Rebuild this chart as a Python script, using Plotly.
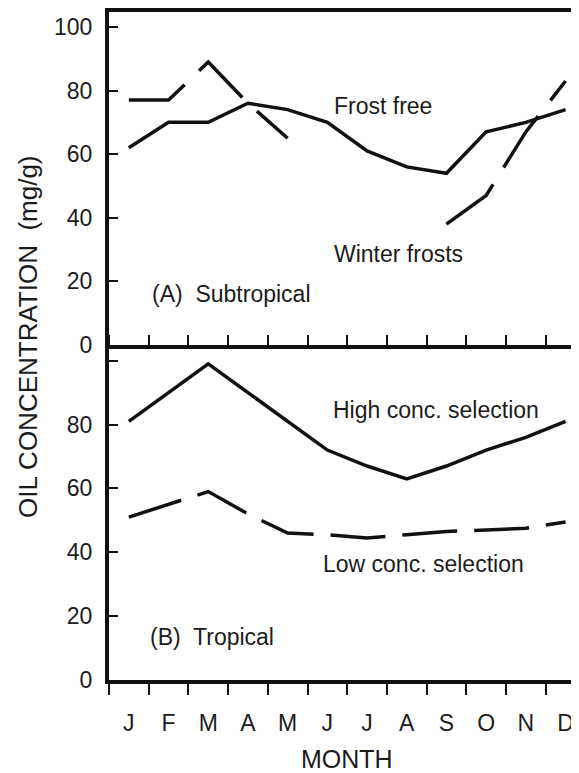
import plotly.graph_objects as go

# ---- data ----
months = list(range(1, 13))
month_labels = ["J", "F", "M", "A", "M", "J", "J", "A", "S", "O", "N", "D"]

# (A) Subtropical
frost_free = [62, 70, 70, 76, 74, 70, 61, 56, 54, 67, 70, 74]
winter_frosts = [77, 77, 89, 76, 65, None, None, None, 38, 47, 67, 83]

# (B) Tropical
high_conc = [81, 90, 99, 90, 81, 72, 67, 63, 67, 72, 76, 81]
low_conc = [51, 55, 59, 52, 46, 45.5, 44.5, 45.5, 46.5, 47, 47.5, 49.5]

y_ticks = [0, 20, 40, 60, 80, 100]
y_tick_text_top = ["0", "20", "40", "60", "80", "100"]
y_tick_text_bottom = ["0", "20", "40", "60", "80", ""]
boundaries = [m - 0.5 for m in months] + [12.5]

FONT = "Arial, Liberation Sans, sans-serif"
INK = "#111111"
TXT = "#1c1c1c"

fig = go.Figure()

fig.add_trace(go.Scatter(x=months, y=frost_free, mode="lines", xaxis="x2", yaxis="y2",
                         line=dict(color=INK, width=3.5), showlegend=False))
fig.add_trace(go.Scatter(x=months, y=winter_frosts, mode="lines", xaxis="x2", yaxis="y2",
                         line=dict(color=INK, width=3.5, dash="62px,20px"),
                         connectgaps=False, showlegend=False))
fig.add_trace(go.Scatter(x=months, y=high_conc, mode="lines", xaxis="x", yaxis="y",
                         line=dict(color=INK, width=3.5), showlegend=False))
fig.add_trace(go.Scatter(x=months, y=low_conc, mode="lines", xaxis="x", yaxis="y",
                         line=dict(color=INK, width=3.5, dash="55px,17px"), showlegend=False))

# the page body adds an 8px offset, so the figure is sized to fit the window
W, H = 571, 765
L, R, T, B = 101, 0, 0, 93
plot_w = W - L - R
plot_h = H - T - B
px_per_month = 39.7
x_range = [0.5, 0.5 + plot_w / px_per_month]
split = 337 / plot_h
y_range_top = [0, 104.7]
y_range_bottom = [0, 104.9]

common_y = dict(tickmode="array", tickvals=y_ticks, ticks="inside",
                ticklen=9, tickwidth=2, tickcolor=INK, showline=True, linewidth=4,
                linecolor=INK, showgrid=False, zeroline=False,
                tickfont=dict(family=FONT, size=23, color=TXT), ticklabelstandoff=8)

right_y = dict(tickmode="array", tickvals=y_ticks[1:], ticks="inside",
               ticklen=7, tickwidth=2, tickcolor=INK, showline=False, showgrid=False,
               zeroline=False, showticklabels=False, side="right")

fig.update_layout(
    width=W, height=H,
    margin=dict(l=L, r=R, t=T, b=B),
    paper_bgcolor="white", plot_bgcolor="white",
    xaxis=dict(domain=[0, 1], anchor="y", range=x_range, tickmode="array",
               tickvals=months, ticktext=month_labels, ticks="",
               showline=True, linewidth=4, linecolor=INK, showgrid=False, zeroline=False,
               tickfont=dict(family=FONT, size=23, color=TXT), ticklabelstandoff=19,
               minor=dict(tickmode="array", tickvals=boundaries, ticks="outside",
                          ticklen=11, tickwidth=2, tickcolor=INK, showgrid=False)),
    xaxis2=dict(domain=[0, 1], anchor="y2", range=x_range, tickmode="array",
                tickvals=months, ticks="", showticklabels=False,
                showline=True, mirror=True, linewidth=4, linecolor=INK,
                showgrid=False, zeroline=False,
                minor=dict(tickmode="array", tickvals=boundaries, ticks="inside",
                           ticklen=10, tickwidth=2, tickcolor=INK, showgrid=False)),
    yaxis=dict(domain=[0, split], anchor="x", range=y_range_bottom,
               ticktext=y_tick_text_bottom, **common_y),
    yaxis2=dict(domain=[split, 1], anchor="x2", range=y_range_top,
                ticktext=y_tick_text_top, **common_y),
    yaxis3=dict(overlaying="y", anchor="x", range=y_range_bottom, **right_y),
    yaxis4=dict(overlaying="y2", anchor="x2", range=y_range_top, **right_y),
)

ann_font = dict(family=FONT, size=23, color=TXT)
annotations = [
    dict(x=7.40, y=75, xref="x2", yref="y2", text="Frost free", showarrow=False, font=ann_font),
    dict(x=7.80, y=28.7, xref="x2", yref="y2", text="Winter frosts", showarrow=False, font=ann_font),
    dict(x=1.53, y=15.9, xref="x2", yref="y2", text="(A)  Subtropical", showarrow=False,
         xanchor="left", font=ann_font),
    dict(x=8.74, y=84.7, xref="x", yref="y", text="High conc. selection", showarrow=False, font=ann_font),
    dict(x=8.42, y=36.4, xref="x", yref="y", text="Low conc. selection", showarrow=False, font=ann_font),
    dict(x=1.48, y=13.4, xref="x", yref="y", text="(B)  Tropical", showarrow=False,
         xanchor="left", font=ann_font),
    dict(x=(20 - L) / plot_w, y=(T + plot_h - 327) / plot_h, xref="paper", yref="paper",
         text="OIL CONCENTRATION  (mg/g)", textangle=-90, showarrow=False,
         xanchor="center", yanchor="middle",
         font=dict(family=FONT, size=26, color=TXT)),
    dict(x=(339 - L) / plot_w, y=(T + plot_h - 751) / plot_h, xref="paper", yref="paper",
         text="MONTH", showarrow=False, xanchor="center", yanchor="middle",
         font=dict(family=FONT, size=25, color=TXT)),
]
fig.update_layout(annotations=annotations)

fig.write_html("out.html")
